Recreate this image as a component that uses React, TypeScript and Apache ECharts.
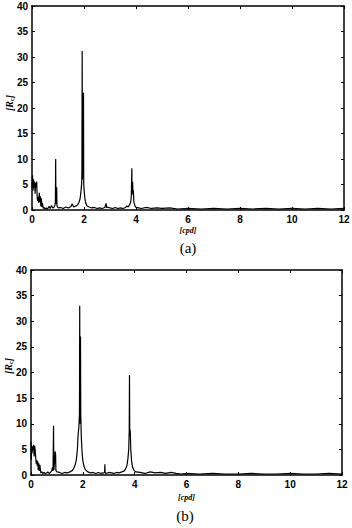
import React, { useEffect, useRef } from "react";
import * as echarts from "echarts";

const xTicks = [0, 2, 4, 6, 8, 10, 12];
const yMax = 40;
const yStep = 5;
const xLabel = "[cpd]";
const yLabel = "{a|[R}{s|c}{a|]}";
const panelLabels = ["(a)", "(b)"];

const spectrumA: [number, number][] = [
  [0, 4.2], [0.02, 6.8], [0.04, 3.8], [0.06, 6.0], [0.08, 4.3], [0.1, 5.6], [0.12, 3.2], [0.14, 5.3],
  [0.16, 4.4], [0.18, 5.6], [0.2, 2.4], [0.22, 1.8], [0.24, 2.6], [0.26, 1.4], [0.28, 3.4], [0.3, 1.6],
  [0.32, 2.7], [0.34, 0.7], [0.36, 2.3], [0.38, 0.6], [0.4, 1.4], [0.43, 0.3], [0.46, 0.5], [0.5, 0.2],
  [0.55, 0.4], [0.6, 0.2], [0.65, 0.7], [0.7, 0.3], [0.75, 0.9], [0.8, 0.4], [0.85, 0.6], [0.88, 0.9],
  [0.9, 1.5], [0.91, 10.0], [0.92, 1.2], [0.94, 4.5], [0.95, 4.3], [0.96, 0.9], [0.98, 0.6], [1.02, 0.4],
  [1.1, 0.5], [1.2, 0.3], [1.3, 0.6], [1.4, 0.4], [1.5, 0.7], [1.55, 1.2], [1.6, 0.6], [1.7, 0.8],
  [1.75, 1.0], [1.8, 1.4], [1.85, 2.2], [1.88, 3.5], [1.91, 5.2], [1.92, 8], [1.93, 31.2], [1.94, 6],
  [1.96, 23], [1.97, 22.5], [1.98, 23], [1.99, 5], [2.01, 3.5], [2.04, 2.0], [2.08, 1.2], [2.12, 0.8],
  [2.2, 0.6], [2.3, 0.4], [2.4, 0.5], [2.5, 0.3], [2.6, 0.4], [2.7, 0.3], [2.8, 0.5], [2.85, 1.3],
  [2.87, 0.4], [2.9, 0.6], [3.0, 0.4], [3.1, 0.3], [3.2, 0.5], [3.3, 0.3], [3.4, 0.4], [3.5, 0.3],
  [3.6, 0.5], [3.65, 0.8], [3.7, 0.6], [3.75, 1.0], [3.8, 1.6], [3.82, 2.8], [3.84, 8.2], [3.85, 3],
  [3.87, 5.5], [3.88, 4], [3.9, 3.6], [3.92, 1.5], [3.96, 0.8], [4.0, 0.5], [4.1, 0.4], [4.2, 0.3],
  [4.4, 0.5], [4.6, 0.3], [4.8, 0.4], [5.0, 0.3], [5.3, 0.4], [5.6, 0.2], [6.0, 0.3], [6.5, 0.2],
  [7, 0.3], [7.5, 0.2], [8, 0.3], [8.5, 0.2], [9, 0.3], [9.5, 0.2], [10, 0.3], [10.5, 0.2],
  [11, 0.3], [11.5, 0.2], [12, 0.3],
];

const spectrumB: [number, number][] = [
  [0, 6.5], [0.01, 3], [0.02, 5.8], [0.04, 4.2], [0.06, 5.6], [0.08, 4.8], [0.1, 5.9], [0.12, 3.6],
  [0.14, 5.7], [0.16, 4.9], [0.18, 3.5], [0.2, 2.2], [0.22, 2.9], [0.24, 1.8], [0.26, 2.7], [0.28, 1.0],
  [0.3, 2.3], [0.32, 0.8], [0.34, 2.0], [0.36, 1.2], [0.38, 0.4], [0.42, 0.6], [0.46, 0.3], [0.5, 0.5],
  [0.55, 0.3], [0.6, 0.4], [0.65, 0.6], [0.7, 0.3], [0.75, 0.5], [0.8, 0.8], [0.83, 1.5], [0.85, 0.8],
  [0.87, 9.6], [0.88, 1.0], [0.91, 2.5], [0.93, 4.6], [0.95, 4.0], [0.96, 0.9], [1.0, 0.6], [1.1, 0.5],
  [1.2, 0.3], [1.3, 0.5], [1.4, 0.4], [1.5, 0.6], [1.6, 0.9], [1.65, 1.3], [1.7, 1.9], [1.75, 3.0],
  [1.79, 5.0], [1.82, 8.0], [1.85, 9.5], [1.87, 12], [1.88, 33], [1.89, 10], [1.91, 27], [1.92, 12],
  [1.94, 7.5], [1.97, 4.5], [2.0, 2.8], [2.05, 1.6], [2.1, 1.0], [2.2, 0.6], [2.3, 0.4], [2.4, 0.5],
  [2.5, 0.3], [2.6, 0.5], [2.7, 0.3], [2.8, 0.4], [2.84, 0.5], [2.85, 2.1], [2.86, 0.5], [2.9, 0.3],
  [3.0, 0.5], [3.1, 0.4], [3.2, 0.3], [3.3, 0.5], [3.4, 0.4], [3.5, 0.6], [3.6, 0.8], [3.65, 1.2],
  [3.7, 1.8], [3.74, 3.2], [3.77, 5.0], [3.79, 8.5], [3.8, 19.5], [3.81, 9], [3.83, 8.5], [3.85, 5],
  [3.88, 2.8], [3.92, 1.5], [3.97, 0.9], [4.05, 0.6], [4.2, 0.5], [4.4, 0.3], [4.6, 0.6], [4.8, 0.4],
  [5.0, 0.5], [5.2, 0.3], [5.4, 0.5], [5.6, 0.3], [5.8, 0.2], [6, 0.3], [6.5, 0.2], [7, 0.3],
  [7.5, 0.2], [8, 0.2], [8.5, 0.3], [9, 0.2], [9.5, 0.2], [10, 0.3], [10.5, 0.2], [11, 0.2],
  [11.5, 0.3], [12, 0.2],
];

const grids = [
  { left: 32, top: 6, width: 312, height: 204 },
  { left: 31, top: 270, width: 311, height: 205 },
];
const xNameGaps = [16, 18];
const panelLabelPos = [
  [188, 248],
  [185, 516],
];
const yLabelPos = [
  [9, 103],
  [8, 366],
];

export default function App() {
  const ref = useRef<HTMLDivElement>(null);
  useEffect(() => {
    if (!ref.current) return;
    const chart = echarts.init(ref.current, null, { renderer: "svg" });
    const axisLine = { show: true, onZero: false, lineStyle: { color: "#000", width: 1.5 } };
    const tickStyle = { show: true, inside: true, length: 3, lineStyle: { color: "#000", width: 1 } };
    const labelFont = { color: "#000", fontSize: 10, fontWeight: "bold" as const, fontFamily: "Liberation Sans, Arial, sans-serif" };
    const xAxes: any[] = [];
    const yAxes: any[] = [];
    grids.forEach((_, i) => {
      xAxes.push({
        type: "value", gridIndex: i, min: xTicks[0], max: xTicks[xTicks.length - 1], interval: 2,
        position: "bottom", axisLine, axisTick: tickStyle, splitLine: { show: false },
        axisLabel: { ...labelFont, margin: 4 },
        name: xLabel, nameLocation: "middle", nameGap: xNameGaps[i],
        nameTextStyle: { color: "#000", fontSize: 8, fontStyle: "italic", fontWeight: "bold", fontFamily: "Liberation Serif, serif" },
      });
      xAxes.push({
        type: "value", gridIndex: i, min: xTicks[0], max: xTicks[xTicks.length - 1], interval: 2,
        position: "top", axisLine, axisTick: tickStyle, splitLine: { show: false }, axisLabel: { show: false },
      });
      yAxes.push({
        type: "value", gridIndex: i, min: 0, max: yMax, interval: yStep,
        position: "left", axisLine, axisTick: tickStyle, splitLine: { show: false },
        axisLabel: { ...labelFont, margin: 4 },
      });
      yAxes.push({
        type: "value", gridIndex: i, min: 0, max: yMax, interval: yStep,
        position: "right", axisLine, axisTick: tickStyle, splitLine: { show: false }, axisLabel: { show: false },
      });
    });
    const series = [spectrumA, spectrumB].map((d, i) => ({
      type: "line", xAxisIndex: i * 2, yAxisIndex: i * 2, data: d, showSymbol: false,
      lineStyle: { color: "#000", width: 1.2 }, silent: true,
    }));
    const rich = {
      a: { fontSize: 10, fill: "#000", color: "#000", fontFamily: "Liberation Serif, serif", fontStyle: "italic", fontWeight: "bold" },
      s: { fontSize: 6, fill: "#000", color: "#000", fontFamily: "Liberation Serif, serif", fontWeight: "bold", padding: [5, 0, 0, 0] },
    };
    chart.setOption({
      animation: false,
      backgroundColor: "#fff",
      grid: grids.map((g) => ({ ...g, containLabel: false, outerBoundsMode: "none" })),
      xAxis: xAxes,
      yAxis: yAxes,
      series,
      graphic: [
        ...panelLabels.map((t, i) => ({
          type: "text", x: panelLabelPos[i][0], y: panelLabelPos[i][1],
          style: { text: t, fontSize: 15, fontFamily: "Liberation Serif, serif", fill: "#000", align: "center", verticalAlign: "middle" },
        })),
        ...yLabelPos.map((p) => ({
          type: "text", x: p[0], y: p[1], rotation: Math.PI / 2,
          style: { text: yLabel, rich, fill: "#000", align: "center", verticalAlign: "middle" },
        })),
      ],
    });
    return () => chart.dispose();
  }, []);
  return <div ref={ref} style={{ position: "fixed", left: 0, top: 0, width: 352, height: 528, background: "#fff" }} />;
}
